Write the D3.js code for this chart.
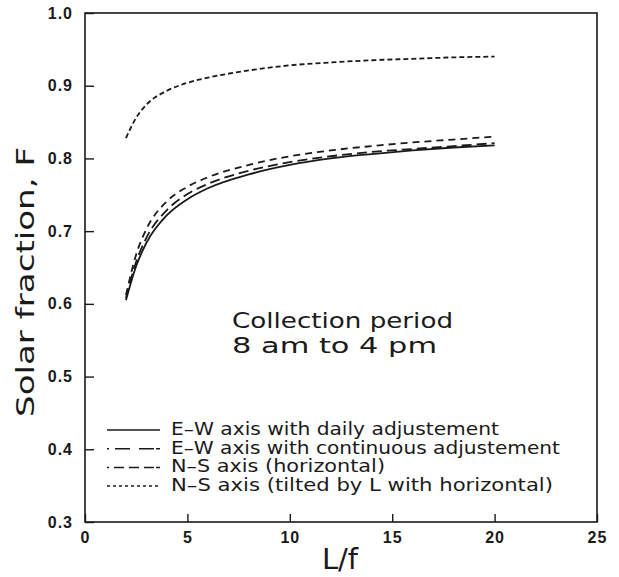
<!DOCTYPE html>
<html>
<head>
<meta charset="utf-8">
<script src="https://cdn.jsdelivr.net/npm/d3@7"></script>
<style>
  body { margin: 0; background: #fff; }
  text { fill: #1a1a1a; }
</style>
</head>
<body>
<div id="chart"></div>
<script>
const lfValues = [2, 2.5, 3, 4, 5, 6, 8, 10, 12, 14, 16, 18, 20];

// solar fraction F for each configuration
const ewDaily = [0.605, 0.652, 0.684, 0.722, 0.744, 0.759, 0.778, 0.791, 0.8, 0.806, 0.811, 0.815, 0.818];
const ewContinuous = [0.608, 0.658, 0.691, 0.729, 0.751, 0.765, 0.783, 0.795, 0.803, 0.809, 0.813, 0.817, 0.821];
const nsHorizontal = [0.612, 0.668, 0.703, 0.741, 0.761, 0.774, 0.791, 0.803, 0.811, 0.817, 0.822, 0.826, 0.83];
const nsTilted = [0.828, 0.856, 0.874, 0.893, 0.904, 0.911, 0.921, 0.928, 0.932, 0.935, 0.937, 0.939, 0.94];

const legendLabels = [
  "E\u2013W axis with daily adjustement",
  "E\u2013W axis with continuous adjustement",
  "N\u2013S axis (horizontal)",
  "N\u2013S axis (tilted by L with horizontal)",
];

const xTicks = [0, 5, 10, 15, 20, 25];
const yTicks = [0.3, 0.4, 0.5, 0.6, 0.7, 0.8, 0.9, 1.0];

class LineChart {
  constructor(_config, series) {
    this.config = {
      parentElement: _config.parentElement,
      containerWidth: 619,
      containerHeight: 577,
      margin: { top: 13, right: 22, bottom: 55, left: 85 },
    };
    this.series = series;
    this.initVis();
  }

  initVis() {
    let vis = this;

    vis.width = vis.config.containerWidth - vis.config.margin.left - vis.config.margin.right;
    vis.height = vis.config.containerHeight - vis.config.margin.top - vis.config.margin.bottom;

    vis.svg = d3
      .select(vis.config.parentElement)
      .append("svg")
      .attr("width", vis.config.containerWidth)
      .attr("height", vis.config.containerHeight);

    vis.chart = vis.svg
      .append("g")
      .attr("transform", `translate(${vis.config.margin.left},${vis.config.margin.top})`);

    vis.xScale = d3.scaleLinear().domain([0, 25]).range([0, vis.width]);
    vis.yScale = d3.scaleLinear().domain([0.3, 1.0]).range([vis.height, 0]);

    vis.xAxis = d3.axisBottom(vis.xScale)
      .tickValues(xTicks)
      .tickFormat(d3.format("d"))
      .tickSizeInner(-8)
      .tickSizeOuter(0)
      .tickPadding(10);

    vis.yAxis = d3.axisLeft(vis.yScale)
      .tickValues(yTicks)
      .tickFormat(d3.format(".1f"))
      .tickSizeInner(-9)
      .tickSizeOuter(0)
      .tickPadding(12);

    vis.xAxisG = vis.chart.append("g").attr("transform", `translate(0,${vis.height})`);
    vis.yAxisG = vis.chart.append("g");

    // frame around the plot
    vis.chart
      .append("rect")
      .attr("width", vis.width)
      .attr("height", vis.height)
      .style("fill", "none")
      .style("stroke", "#1a1a1a")
      .style("stroke-width", 1.6);

    // axis titles
    vis.svg
      .append("text")
      .attr("transform", "translate(34,282) rotate(-90)")
      .attr("text-anchor", "middle")
      .attr("textLength", 270)
      .attr("lengthAdjust", "spacingAndGlyphs")
      .style("font-family", "DejaVu Sans")
      .style("font-size", "25px")
      .text("Solar fraction, F");

    vis.svg
      .append("text")
      .attr("x", 340)
      .attr("y", 569)
      .attr("text-anchor", "middle")
      .style("font-family", "DejaVu Sans")
      .style("font-size", "29px")
      .text("L/f");

    // annotation
    const note = vis.svg.append("g").style("font-family", "DejaVu Sans").style("font-size", "21px");
    note.append("text").attr("x", 232).attr("y", 328)
      .attr("textLength", 221).attr("lengthAdjust", "spacingAndGlyphs")
      .text("Collection period");
    note.append("text").attr("x", 232).attr("y", 353)
      .attr("textLength", 205).attr("lengthAdjust", "spacingAndGlyphs")
      .text("8 am to 4 pm");

    vis.line = d3.line()
      .x((d) => vis.xScale(d.lf))
      .y((d) => vis.yScale(d.f))
      .curve(d3.curveMonotoneX);
  }

  updateVis() {
    let vis = this;
    vis.renderVis();
  }

  renderVis() {
    let vis = this;

    vis.xAxisG.call(vis.xAxis);
    vis.yAxisG.call(vis.yAxis);

    [vis.xAxisG, vis.yAxisG].forEach((g) => {
      g.select(".domain").remove();
      g.selectAll(".tick line").style("stroke", "#1a1a1a").style("stroke-width", 1.4);
      g.selectAll(".tick text")
        .style("font-family", "Liberation Sans")
        .style("font-weight", "bold")
        .style("font-size", "16px")
        .style("letter-spacing", "1px")
        .style("fill", "#1a1a1a");
    });

    vis.chart
      .selectAll(".curve")
      .data(vis.series)
      .join("path")
      .attr("class", "curve")
      .attr("d", (d) => vis.line(d.values))
      .style("fill", "none")
      .style("stroke", "#1a1a1a")
      .style("stroke-width", 1.8)
      .style("stroke-dasharray", (d) => d.dash);

    // legend
    const legend = vis.svg
      .selectAll(".legend-item")
      .data(vis.series)
      .join("g")
      .attr("class", "legend-item")
      .attr("transform", (d, i) => `translate(107,${435 + i * 18.7})`);

    legend
      .append("line")
      .attr("x1", 0)
      .attr("x2", 53)
      .attr("y1", -5)
      .attr("y2", -5)
      .style("stroke", "#1a1a1a")
      .style("stroke-width", 1.5)
      .style("stroke-dasharray", (d) => d.legendDash);

    legend
      .append("text")
      .attr("x", 64)
      .attr("textLength", (d) => d.textWidth)
      .attr("lengthAdjust", "spacingAndGlyphs")
      .style("font-family", "DejaVu Sans")
      .style("font-size", "17px")
      .text((d) => d.label);
  }
}

const toPoints = (values) => lfValues.map((lf, i) => ({ lf: lf, f: values[i] }));

const series = [
  { label: legendLabels[0], values: toPoints(ewDaily), dash: null, legendDash: null, textWidth: 328 },
  { label: legendLabels[1], values: toPoints(ewContinuous), dash: "10,5", legendDash: "2,6,15,9,15", textWidth: 389 },
  { label: legendLabels[2], values: toPoints(nsHorizontal), dash: "7,5", legendDash: "2,5,10,5,10,5,10", textWidth: 214 },
  { label: legendLabels[3], values: toPoints(nsTilted), dash: "5,3", legendDash: "3,3", textWidth: 382 },
];

const chart = new LineChart({ parentElement: "#chart" }, series);
chart.updateVis();
</script>
</body>
</html>
